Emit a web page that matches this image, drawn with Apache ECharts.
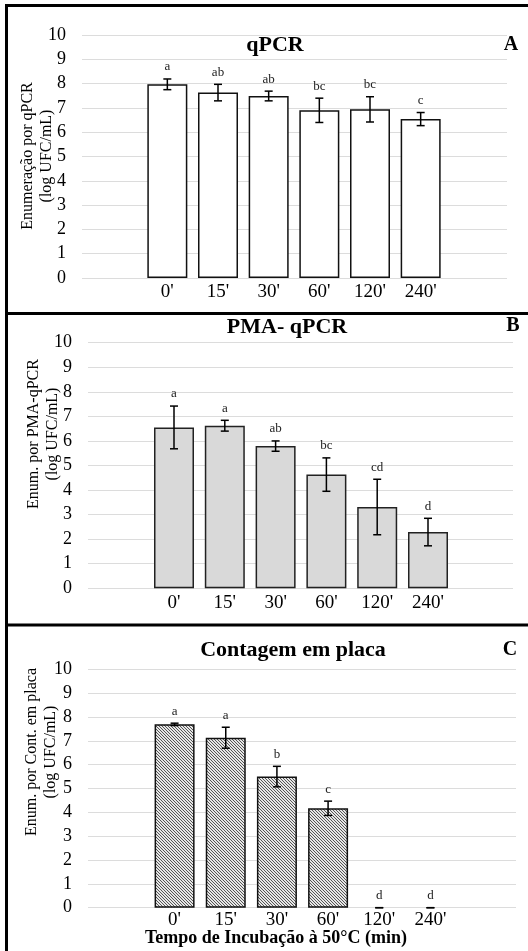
<!DOCTYPE html>
<html>
<head>
<meta charset="utf-8">
<script src="https://cdn.jsdelivr.net/npm/echarts@6/dist/echarts.min.js"></script>
<style>
  html, body { margin: 0; padding: 0; background: #fff; }
  #chart { width: 528px; height: 951px; }
</style>
</head>
<body>
<div id="chart"></div>
<script>
// tempos de incubação
const categories = ["0'", "15'", "30'", "60'", "120'", "240'"];

// A - qPCR
const qpcrMean = [7.97, 7.63, 7.49, 6.90, 6.94, 6.54];
const qpcrErr = [0.22, 0.34, 0.20, 0.50, 0.52, 0.27];
const qpcrLetters = ['a', 'ab', 'ab', 'bc', 'bc', 'c'];

// B - PMA-qPCR
const pmaMean = [6.55, 6.62, 5.79, 4.63, 3.31, 2.29];
const pmaErr = [0.87, 0.22, 0.21, 0.68, 1.13, 0.56];
const pmaLetters = ['a', 'a', 'ab', 'bc', 'cd', 'd'];

// C - Contagem em placa
const plateMean = [7.69, 7.13, 5.50, 4.17, 0, 0];
const plateErr = [0.05, 0.44, 0.43, 0.30, 0, 0];
const plateLetters = ['a', 'a', 'b', 'c', 'd', 'd'];

const FONT = '"Liberation Serif", "Times New Roman", serif';

// textura hachurada para o painel C
function hatchPattern() {
  const c = document.createElement('canvas');
  c.width = 3;
  c.height = 3;
  const ctx = c.getContext('2d');
  ctx.fillStyle = '#e6e6e6';
  ctx.fillRect(0, 0, 3, 3);
  ctx.strokeStyle = '#555';
  ctx.lineWidth = 1;
  ctx.beginPath();
  ctx.moveTo(0, 0); ctx.lineTo(3, 3);
  ctx.moveTo(-1, 2); ctx.lineTo(1, 4);
  ctx.moveTo(2, -1); ctx.lineTo(4, 1);
  ctx.stroke();
  return c;
}

// painéis: grade de fundo (eixo y + linhas) e grade das barras
const panels = [
  { top: 35, bottom: 278, bgLeft: 82, bgRight: 507, barLeft: 142, barRight: 446, labelMargin: 5,
    mean: qpcrMean, err: qpcrErr, letters: qpcrLetters,
    fill: '#ffffff', border: '#111' },
  { top: 342.7, bottom: 588.3, bgLeft: 88, bgRight: 513, barLeft: 148.6, barRight: 453.4, labelMargin: 5,
    mean: pmaMean, err: pmaErr, letters: pmaLetters,
    fill: '#d9d9d9', border: '#222' },
  { top: 669.3, bottom: 907.7, bgLeft: 88, bgRight: 516, barLeft: 149, barRight: 456, labelMargin: 3,
    mean: plateMean, err: plateErr, letters: plateLetters,
    fill: { image: hatchPattern(), repeat: 'repeat' }, border: '#111' }
];

const W = 528, H = 951;
const grid = [], xAxis = [], yAxis = [], series = [];

panels.forEach((p, i) => {
  const bg = i * 2, br = i * 2 + 1;
  grid.push({ left: p.bgLeft, right: W - p.bgRight, top: p.top, bottom: H - p.bottom });
  grid.push({ left: p.barLeft, right: W - p.barRight, top: p.top, bottom: H - p.bottom });

  xAxis.push({ gridIndex: bg, type: 'value', show: false });
  xAxis.push({
    gridIndex: br, type: 'category', data: categories,
    axisLine: { show: false }, axisTick: { show: false },
    axisLabel: { color: '#000', fontFamily: FONT, fontSize: 19, margin: p.labelMargin }
  });

  yAxis.push({
    gridIndex: bg, type: 'value', min: 0, max: 10, interval: 1,
    axisLine: { show: false }, axisTick: { show: false },
    axisLabel: { color: '#000', fontFamily: FONT, fontSize: 18, margin: 16 },
    splitLine: { lineStyle: { color: '#dcdcdc', width: 1 } }
  });
  yAxis.push({ gridIndex: br, type: 'value', min: 0, max: 10, show: false, splitLine: { show: false } });

  series.push({
    type: 'bar', xAxisIndex: br, yAxisIndex: br,
    // barras de valor zero não ganham contorno
    data: p.mean.map(v => (v === 0 ? { value: v, itemStyle: { borderWidth: 0 } } : v)),
    barWidth: 40,
    itemStyle: { color: p.fill, borderColor: p.border, borderWidth: 1.5 },
    silent: true
  });

  const letters = p.letters;
  series.push({
    type: 'custom', xAxisIndex: br, yAxisIndex: br,
    data: p.mean.map((m, k) => [k, m - p.err[k], m + p.err[k]]),
    renderItem: (params, api) => {
      const x = api.value(0);
      const top = api.coord([x, api.value(2)]);
      const bot = api.coord([x, api.value(1)]);
      const hw = 4;
      const st = { stroke: '#000', lineWidth: 1.5 };
      return {
        type: 'group',
        children: [
          { type: 'line', shape: { x1: top[0], y1: top[1], x2: bot[0], y2: bot[1] }, style: st },
          { type: 'line', shape: { x1: top[0] - hw, y1: top[1], x2: top[0] + hw, y2: top[1] }, style: st },
          { type: 'line', shape: { x1: bot[0] - hw, y1: bot[1], x2: bot[0] + hw, y2: bot[1] }, style: st },
          { type: 'text', x: top[0], y: top[1] - 12,
            style: { text: letters[params.dataIndex], fill: '#222', font: '13px ' + FONT,
                     align: 'center', verticalAlign: 'middle' } }
        ]
      };
    },
    silent: true, z: 5
  });
});

function yName(line1, cx, cy) {
  return {
    type: 'text', x: cx, y: cy, rotation: Math.PI / 2,
    style: { text: line1 + '\n(log UFC/mL)', fill: '#000', font: '16px ' + FONT,
             lineHeight: 19, align: 'center', verticalAlign: 'middle' }
  };
}

function boldText(text, cx, cy, size) {
  return {
    type: 'text', x: cx, y: cy,
    style: { text: text, fill: '#000', font: 'bold ' + size + 'px ' + FONT,
             align: 'center', verticalAlign: 'middle' }
  };
}

const borderStyle = { stroke: '#000', lineWidth: 3 };

const option = {
  backgroundColor: '#fff',
  animation: false,
  grid: grid,
  xAxis: xAxis,
  yAxis: yAxis,
  series: series,
  graphic: [
    // molduras
    { type: 'line', shape: { x1: 6, y1: 5.5, x2: 528, y2: 5.5 }, style: borderStyle },
    { type: 'line', shape: { x1: 6.5, y1: 4, x2: 6.5, y2: 951 }, style: borderStyle },
    { type: 'line', shape: { x1: 6, y1: 313.5, x2: 528, y2: 313.5 }, style: borderStyle },
    { type: 'line', shape: { x1: 6, y1: 625, x2: 528, y2: 625 }, style: borderStyle },
    // títulos
    boldText('qPCR', 275, 45, 22),
    boldText('A', 511, 45, 20),
    boldText('PMA- qPCR', 287, 327, 22),
    boldText('B', 513, 326, 20),
    boldText('Contagem em placa', 293, 650, 22),
    boldText('C', 510, 650, 20),
    boldText('Tempo de Incubação à 50°C (min)', 276, 938, 18),
    // nomes dos eixos y
    yName('Enumeração por qPCR', 37, 156),
    yName('Enum. por PMA-qPCR', 43, 434),
    yName('Enum. por Cont. em placa', 41, 752)
  ]
};

const chart = echarts.init(document.getElementById('chart'));
chart.setOption(option);
window.addEventListener('resize', () => chart.resize());
</script>
</body>
</html>
